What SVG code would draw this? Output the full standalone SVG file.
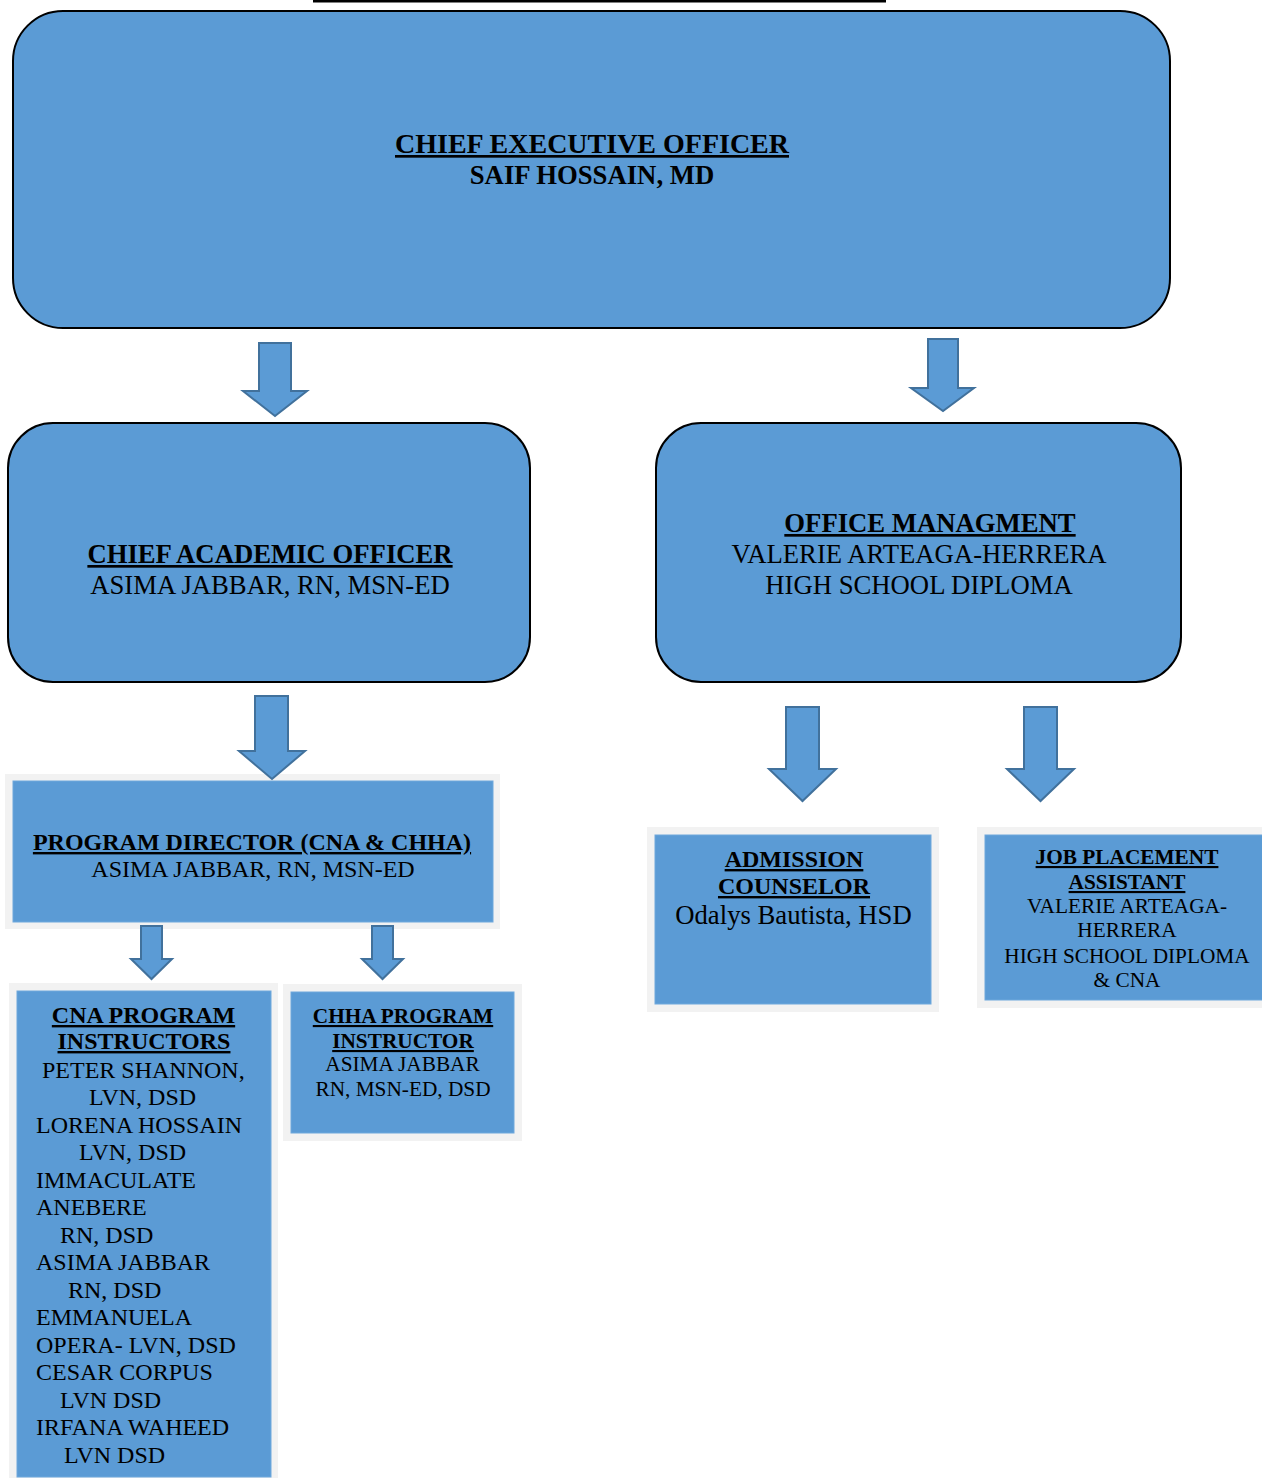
<svg xmlns="http://www.w3.org/2000/svg" width="1262" height="1478" viewBox="0 0 1262 1478">
<style>
text{font-family:"Liberation Serif","Times New Roman",serif;fill:#000}
.b{font-weight:bold;text-decoration:underline}
.m{text-anchor:middle}
.rr{fill:#5B9BD5;stroke:#000;stroke-width:2}
.frame{fill:#F2F2F2}
.box{fill:#5B9BD5;stroke:#6FA8DC;stroke-width:1}
.arr{fill:#5B9BD5;stroke:#41719C;stroke-width:2;stroke-linejoin:miter}
.f27{font-size:26.7px}
.f24{font-size:24px}
.f21{font-size:21.3px}
</style>
<rect x="313" y="0" width="573" height="2.5" fill="#000"/>

<g id="ceo">
<rect class="rr" x="13" y="11" width="1157" height="317" rx="50" ry="50"/>
<text class="f27 m b" x="592" y="153" textLength="394" lengthAdjust="spacingAndGlyphs">CHIEF EXECUTIVE OFFICER</text>
<text class="f27 m" x="592" y="184" font-weight="bold">SAIF HOSSAIN, MD</text>
</g>

<g id="cao">
<rect class="rr" x="8" y="423" width="522" height="259" rx="45" ry="45"/>
<text class="f27 m b" x="270" y="563">CHIEF ACADEMIC OFFICER</text>
<text class="f27 m" x="270" y="594">ASIMA JABBAR, RN, MSN-ED</text>
</g>

<g id="office">
<rect class="rr" x="656" y="423" width="525" height="259" rx="45" ry="45"/>
<text class="f27 m b" x="930" y="532">OFFICE MANAGMENT</text>
<text class="f27 m" x="919" y="563">VALERIE ARTEAGA-HERRERA</text>
<text class="f27 m" x="919" y="594">HIGH SCHOOL DIPLOMA</text>
</g>

<g id="program-director">
<rect class="frame" x="5" y="774" width="495" height="155"/>
<rect class="box" x="13" y="781" width="480" height="141"/>
<text class="f24 m b" x="252" y="850">PROGRAM DIRECTOR (CNA &amp; CHHA)</text>
<text class="f24 m" x="253" y="877">ASIMA JABBAR, RN, MSN-ED</text>
</g>

<g id="cna-instructors">
<rect class="frame" x="9" y="983" width="269" height="495"/>
<rect class="box" x="17" y="991" width="254" height="486"/>
<text class="f24 m b" x="143.5" y="1023">CNA PROGRAM</text>
<text class="f24 m b" x="144" y="1049">INSTRUCTORS</text>
<text class="f24" x="42" y="1078">PETER SHANNON,</text>
<text class="f24" x="89" y="1105">LVN, DSD</text>
<text class="f24" x="36" y="1133">LORENA HOSSAIN</text>
<text class="f24" x="79" y="1160">LVN, DSD</text>
<text class="f24" x="36" y="1188">IMMACULATE</text>
<text class="f24" x="36" y="1215">ANEBERE</text>
<text class="f24" x="60" y="1243">RN, DSD</text>
<text class="f24" x="36" y="1270">ASIMA JABBAR</text>
<text class="f24" x="68" y="1298">RN, DSD</text>
<text class="f24" x="36" y="1325">EMMANUELA</text>
<text class="f24" x="36" y="1353">OPERA- LVN, DSD</text>
<text class="f24" x="36" y="1380">CESAR CORPUS</text>
<text class="f24" x="60" y="1408">LVN DSD</text>
<text class="f24" x="36" y="1435">IRFANA WAHEED</text>
<text class="f24" x="64" y="1463">LVN DSD</text>
</g>

<g id="chha-instructor">
<rect class="frame" x="283" y="984" width="239" height="157"/>
<rect class="box" x="291" y="992" width="223" height="141"/>
<text class="f21 m b" x="403" y="1023">CHHA PROGRAM</text>
<text class="f21 m b" x="403" y="1048">INSTRUCTOR</text>
<text class="f21 m" x="402.5" y="1071">ASIMA JABBAR</text>
<text class="f21 m" x="403" y="1096">RN, MSN-ED, DSD</text>
</g>

<g id="admission">
<rect class="frame" x="647" y="827" width="292" height="185"/>
<rect class="box" x="655" y="835" width="276" height="169"/>
<text class="f24 m b" x="794" y="867">ADMISSION</text>
<text class="f24 m b" x="794" y="894">COUNSELOR</text>
<text class="f27 m" x="793.5" y="924">Odalys Bautista, HSD</text>
</g>

<g id="job-placement">
<rect class="frame" x="977" y="827" width="290" height="181"/>
<rect class="box" x="985" y="835" width="282" height="165"/>
<text class="f21 m b" x="1127" y="864">JOB PLACEMENT</text>
<text class="f21 m b" x="1127" y="889">ASSISTANT</text>
<text class="f21 m" x="1127" y="913">VALERIE ARTEAGA-</text>
<text class="f21 m" x="1127" y="937">HERRERA</text>
<text class="f21 m" x="1127" y="963">HIGH SCHOOL DIPLOMA</text>
<text class="f21 m" x="1127" y="987">&amp; CNA</text>
</g>

<g id="connectors">
<polygon class="arr" points="259,343 291,343 291,391 307,391 275,416 243,391 259,391"/>
<polygon class="arr" points="928,339 958,339 958,388 974,388 943,411 911,388 928,388"/>
<polygon class="arr" points="255,696 288,696 288,751 305,751 272,779 239,751 255,751"/>
<polygon class="arr" points="141,926 162,926 162,959 172,959 151.5,979 131,959 141,959"/>
<polygon class="arr" points="372,926 393,926 393,959 403,959 382.5,979 362,959 372,959"/>
<polygon class="arr" points="786,707 819,707 819,769 836,769 802.5,801 769,769 786,769"/>
<polygon class="arr" points="1024,707 1057,707 1057,769 1074,769 1040.5,801 1007,769 1024,769"/>
</g>
</svg>
